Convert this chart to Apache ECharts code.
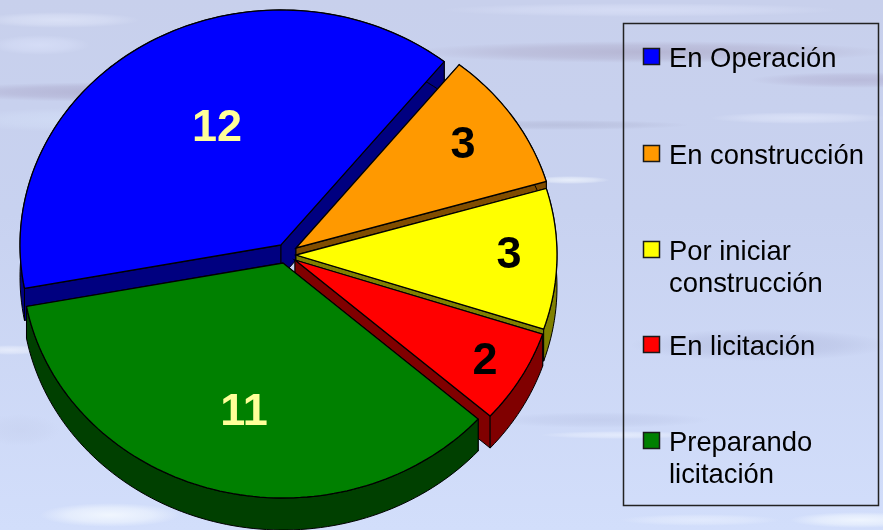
<!DOCTYPE html>
<html>
<head>
<meta charset="utf-8">
<style>
  html, body { margin: 0; padding: 0; background: #ccd6f4; }
  #main { width: 883px; height: 530px; }
</style>
</head>
<body>
<div id="main"></div>
<script src="https://cdn.jsdelivr.net/npm/echarts@6/dist/echarts.min.js"></script>
<script>
// chart data
const categories = ["En Operación", "En construcción", "Por iniciar\nconstrucción", "En licitación", "Preparando\nlicitación"];
const sliceValues = [12, 3, 3, 2, 11];

// styles, same order as the categories
const topColors = ["#0000ff", "#ff9900", "#ffff00", "#ff0000", "#008000"];
const wallColors = ["#000080", "#804d00", "#808000", "#800000", "#004000"];
const labelColors = ["#ffff99", "#000000", "#000000", "#000000", "#ffff99"];

// each slice is pulled out on its own, so each has its own apex
const apexes = [[281, 245], [296, 248], [296, 255], [295, 260], [283, 263]];
const labelOffsets = [[-64, -116], [167, -102], [213, 1], [190, 102], [-39, 150]];
const legendRows = [59, 156, 252, 347, 443];

const radiusX = 261;
const radiusY = 235;
const depth = 32;
const startAngle = 259.35; // degrees clockwise from the top

// water texture: cx, cy, rx, ry, color
const streaks = [
  [120, 92, 190, 10, "rgba(165,160,195,0.6)"],
  [650, 52, 240, 11, "rgba(170,165,195,0.6)"],
  [860, 80, 110, 8, "rgba(170,165,200,0.5)"],
  [560, 125, 130, 5, "rgba(170,175,205,0.45)"],
  [800, 118, 90, 6, "rgba(235,240,255,0.5)"],
  [760, 345, 130, 16, "rgba(170,178,215,0.5)"],
  [600, 420, 110, 8, "rgba(180,190,225,0.4)"],
  [620, 435, 80, 4, "rgba(240,245,255,0.6)"],
  [640, 10, 200, 7, "rgba(230,235,255,0.45)"],
  [60, 20, 80, 8, "rgba(235,240,255,0.5)"],
  [40, 45, 50, 10, "rgba(225,232,255,0.5)"],
  [70, 120, 110, 12, "rgba(215,228,250,0.5)"],
  [10, 350, 40, 5, "rgba(245,248,255,0.6)"],
  [110, 515, 70, 12, "rgba(245,250,255,0.85)"],
  [860, 520, 70, 8, "rgba(245,250,255,0.8)"],
  [700, 520, 80, 6, "rgba(240,245,255,0.5)"],
  [20, 430, 40, 16, "rgba(195,205,235,0.4)"],
  [570, 180, 40, 4, "rgba(245,250,255,0.7)"]
];

function rimPoint(apex, angle) {
  const t = angle * Math.PI / 180;
  return [apex[0] + radiusX * Math.sin(t), apex[1] - radiusY * Math.cos(t)];
}

function shifted(p) {
  return [p[0], p[1] + depth];
}

function renderSlice(params, api) {
  const i = params.dataIndex;
  const total = sliceValues.reduce((a, b) => a + b, 0);
  let before = 0;
  for (let k = 0; k < i; k++) before += sliceValues[k];
  const from = startAngle + before / total * 360;
  const to = from + api.value(0) / total * 360;
  const apex = apexes[i];

  const rim = [];
  const steps = Math.ceil((to - from) / 1.5);
  for (let s = 0; s <= steps; s++) {
    rim.push(rimPoint(apex, from + (to - from) * s / steps));
  }
  const first = rim[0];
  const last = rim[rim.length - 1];

  const wallStyle = { fill: wallColors[i], stroke: "#000", lineWidth: 1 };
  const topStyle = { fill: topColors[i], stroke: "#000", lineWidth: 1.3 };
  const poly = (points, style) => ({ type: "polygon", shape: { points }, style });

  return {
    type: "group",
    children: [
      // cut faces first, the outer wall covers them at the corners
      poly([apex, first, shifted(first), shifted(apex)], wallStyle),
      poly([apex, last, shifted(last), shifted(apex)], wallStyle),
      poly(rim.concat(rim.map(shifted).reverse()), wallStyle),
      poly([apex].concat(rim), topStyle),
      {
        type: "text",
        style: {
          text: String(api.value(0)),
          x: apex[0] + labelOffsets[i][0],
          y: apex[1] + labelOffsets[i][1],
          fill: labelColors[i],
          font: "bold 45px 'Liberation Sans', Arial, sans-serif",
          align: "center",
          verticalAlign: "middle"
        }
      }
    ]
  };
}

const background = [{
  type: "rect",
  shape: { x: 0, y: 0, width: 883, height: 530 },
  style: {
    fill: {
      type: "linear", x: 0, y: 0, x2: 0, y2: 1,
      colorStops: [
        { offset: 0, color: "#c8d0ec" },
        { offset: 0.4, color: "#c8d2f0" },
        { offset: 1, color: "#d2defb" }
      ]
    }
  },
  silent: true
}].concat(streaks.map(s => ({
  // a unit circle stretched by scale, so the radial fill stretches with it
  type: "circle",
  x: s[0],
  y: s[1],
  scaleX: s[2] / 10,
  scaleY: s[3] / 10,
  shape: { cx: 0, cy: 0, r: 10 },
  style: {
    fill: {
      type: "radial", x: 0.5, y: 0.5, r: 0.5,
      colorStops: [
        { offset: 0, color: s[4] },
        { offset: 0.6, color: s[4].replace(/[\d.]+\)$/, m => parseFloat(m) * 0.6 + ")") },
        { offset: 1, color: s[4].replace(/[\d.]+\)$/, "0)") }
      ]
    }
  },
  silent: true
})));

// legend frame, keys and text
const legendItems = [{
  type: "rect",
  shape: { x: 623.5, y: 23.5, width: 255, height: 482 },
  style: { fill: "transparent", stroke: "#222", lineWidth: 1.5 }
}];
categories.forEach((name, i) => {
  legendItems.push({
    type: "rect",
    shape: { x: 643.5, y: legendRows[i] - 10.5, width: 16, height: 16 },
    style: { fill: topColors[i], stroke: "#1a1a1a", lineWidth: 1.5 }
  });
  name.split("\n").forEach((line, n) => {
    legendItems.push({
      type: "text",
      style: {
        text: line,
        x: 669,
        y: legendRows[i] + n * 32,
        fill: "#000",
        font: "27.4px 'Liberation Sans', Arial, sans-serif",
        align: "left",
        verticalAlign: "middle"
      }
    });
  });
});

let myChart = echarts.init(document.getElementById("main"));
myChart.setOption({
  animation: false,
  graphic: { elements: background.map(e => Object.assign({ z: -10 }, e)).concat(legendItems) },
  series: [
    {
      type: "custom",
      coordinateSystem: "none",
      renderItem: renderSlice,
      data: sliceValues.map(v => [v]),
      silent: true
    }
  ]
});
</script>
</body>
</html>
